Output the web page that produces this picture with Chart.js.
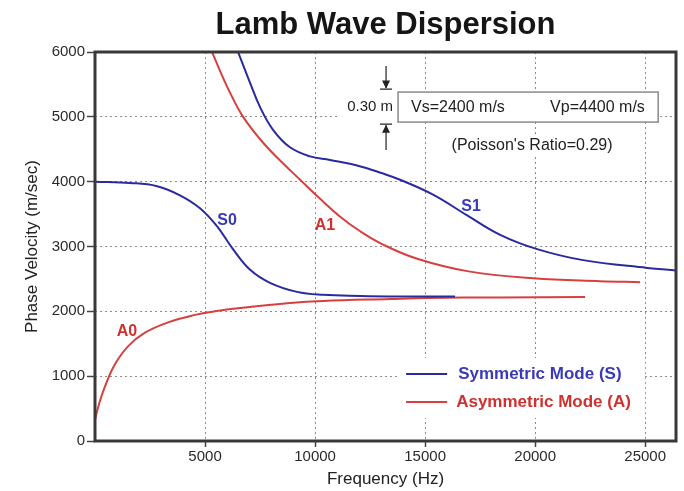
<!DOCTYPE html>
<html>
<head>
<meta charset="utf-8">
<title>Lamb Wave Dispersion</title>
<script src="https://cdn.jsdelivr.net/npm/chart.js@4.4.0/dist/chart.umd.min.js"></script>
<style>
  html, body { margin: 0; padding: 0; background: #fff; }
</style>
</head>
<body>
<canvas id="mainChart" width="684" height="491"></canvas>
<script>
// Curves (frequency in Hz, phase velocity in m/s)
const s0Freq = [0, 1590, 2820, 3860, 4770, 5550, 6270, 7050, 7950, 9180, 10360, 12050, 13860, 16360];
const s0Vel  = [4000, 3980, 3930, 3790, 3590, 3310, 2960, 2640, 2440, 2300, 2255, 2238, 2230, 2228];

const a0Freq = [0, 200, 450, 900, 1500, 2270, 3320, 4550, 5450, 6590, 8860, 10360, 13410, 15090, 18400, 22270];
const a0Vel  = [330, 590, 840, 1180, 1460, 1670, 1830, 1945, 2000, 2050, 2128, 2160, 2190, 2205, 2215, 2220];

const a1Freq = [5320, 5680, 6140, 6730, 7640, 8550, 9320, 10230, 11140, 12050, 13090, 14640, 16910, 19910, 22950, 24770];
const a1Vel  = [6000, 5710, 5370, 5000, 4600, 4280, 4030, 3735, 3460, 3235, 3030, 2810, 2620, 2510, 2465, 2450];

const s1Freq = [6500, 7050, 7500, 8090, 8860, 9770, 10680, 11910, 13090, 13860, 15360, 16910, 18410, 20090, 22180, 25090, 26400];
const s1Vel  = [6000, 5520, 5150, 4800, 4530, 4390, 4335, 4250, 4125, 4030, 3800, 3480, 3180, 2960, 2790, 2670, 2630];

const xTicks = [5000, 10000, 15000, 20000, 25000];
const yTicks = [0, 1000, 2000, 3000, 4000, 5000, 6000];

const BLUE = '#2a2aa0';
const RED = '#d6403e';
const FONT = '"Liberation Sans", Arial, sans-serif';

Chart.defaults.font.family = FONT;

function pairs(xs, ys) {
    return xs.map((x, i) => ({ x: x, y: ys[i] }));
}

function curve(label, xs, ys, color) {
    return {
        label: label,
        data: pairs(xs, ys),
        borderColor: color,
        borderWidth: 2,
        showLine: true,
        pointRadius: 0,
        tension: 0.4,
        fill: false
    };
}

// text, boxes and legend drawn on top of the grid
const overlay = {
    id: 'overlay',
    beforeDatasetsDraw(chart) {
        const { ctx, scales: { x, y } } = chart;
        const X = v => x.getPixelForValue(v);
        const Y = v => y.getPixelForValue(v);
        const rect = (x0, x1, y0, y1) => ctx.fillRect(X(x0), Y(y0), X(x1) - X(x0), Y(y1) - Y(y0));

        ctx.save();
        ctx.fillStyle = '#fff';
        rect(11050, 13770, 5840, 4460);   // thickness marker
        rect(13770, 25590, 5382, 4919);   // velocity box
        rect(15770, 24090, 4718, 4395);   // poisson text
        rect(13860, 25000, 1280, 355);    // legend

        // velocity box
        ctx.strokeStyle = '#8a8a8a';
        ctx.lineWidth = 1.5;
        ctx.strokeRect(X(13770), Y(5382), X(25590) - X(13770), Y(4919) - Y(5382));

        ctx.fillStyle = '#222';
        ctx.textBaseline = 'middle';
        ctx.font = '16px ' + FONT;
        ctx.textAlign = 'left';
        ctx.fillText('Vs=2400 m/s', X(14360), Y(5150));
        ctx.fillText('Vp=4400 m/s', X(20680), Y(5150));
        ctx.textAlign = 'center';
        ctx.fillText("(Poisson's Ratio=0.29)", X(19860), Y(4564));
        ctx.font = '15px ' + FONT;
        ctx.textAlign = 'right';
        ctx.fillText('0.30 m', X(13545), Y(5150));

        // plate thickness arrows
        const ax = X(13225);
        ctx.strokeStyle = '#222';
        ctx.fillStyle = '#222';
        ctx.lineWidth = 1.2;
        ctx.beginPath();
        ctx.moveTo(ax, Y(5783)); ctx.lineTo(ax, Y(5443));
        ctx.moveTo(ax - 6, Y(5428)); ctx.lineTo(ax + 6, Y(5428));
        ctx.moveTo(ax - 6, Y(4888)); ctx.lineTo(ax + 6, Y(4888));
        ctx.moveTo(ax, Y(4870)); ctx.lineTo(ax, Y(4487));
        ctx.stroke();
        ctx.beginPath();
        ctx.moveTo(ax, Y(5435)); ctx.lineTo(ax - 4, Y(5560)); ctx.lineTo(ax + 4, Y(5560)); ctx.closePath();
        ctx.moveTo(ax, Y(4878)); ctx.lineTo(ax - 4, Y(4755)); ctx.lineTo(ax + 4, Y(4755)); ctx.closePath();
        ctx.fill();

        // curve labels
        ctx.font = 'bold 16px ' + FONT;
        ctx.textAlign = 'center';
        ctx.fillStyle = '#3a3ab8';
        ctx.fillText('S0', X(6000), Y(3392));
        ctx.fillText('S1', X(17090), Y(3620));
        ctx.fillStyle = '#d0302e';
        ctx.fillText('A1', X(10450), Y(3315));
        ctx.fillText('A0', X(1455), Y(1680));

        // legend
        ctx.lineWidth = 2;
        ctx.strokeStyle = BLUE;
        ctx.beginPath(); ctx.moveTo(X(14135), Y(1033)); ctx.lineTo(X(16000), Y(1033)); ctx.stroke();
        ctx.strokeStyle = RED;
        ctx.beginPath(); ctx.moveTo(X(14135), Y(601)); ctx.lineTo(X(16000), Y(601)); ctx.stroke();
        ctx.font = 'bold 17px ' + FONT;
        ctx.textAlign = 'left';
        ctx.fillStyle = '#3a3ab8';
        ctx.fillText('Symmetric Mode (S)', X(16500), Y(1033));
        ctx.fillStyle = '#d0302e';
        ctx.fillText('Asymmetric Mode (A)', X(16410), Y(601));
        ctx.restore();
    },
    afterDatasetsDraw(chart) {
        const { ctx, chartArea: a } = chart;
        ctx.save();
        ctx.strokeStyle = '#383838';
        ctx.lineWidth = 3;
        ctx.strokeRect(a.left, a.top, a.right - a.left, a.bottom - a.top);

        ctx.fillStyle = '#151515';
        ctx.font = 'bold 31px ' + FONT;
        ctx.textAlign = 'center';
        ctx.textBaseline = 'alphabetic';
        ctx.fillText('Lamb Wave Dispersion', (a.left + a.right) / 2, 34);
        ctx.restore();
    }
};

const gridStyle = {
    color: '#8c8c8c',
    lineWidth: 1,
    tickColor: '#444',
    tickWidth: 1.5,
    tickBorderDash: []
};

const ctx = document.getElementById('mainChart').getContext('2d');
const chart = new Chart(ctx, {
    type: 'scatter',
    data: {
        datasets: [
            curve('S0', s0Freq, s0Vel, BLUE),
            curve('S1', s1Freq, s1Vel, BLUE),
            curve('A0', a0Freq, a0Vel, RED),
            curve('A1', a1Freq, a1Vel, RED)
        ]
    },
    options: {
        responsive: false,
        animation: false,
        layout: { padding: { top: 52, right: 8, left: 0, bottom: 0 } },
        plugins: {
            legend: { display: false },
            title: { display: false },
            tooltip: { enabled: false }
        },
        scales: {
            x: {
                type: 'linear',
                min: 0,
                max: 26400,
                afterBuildTicks: s => { s.ticks = xTicks.map(v => ({ value: v })); },
                afterFit: s => { s.height = 50; },
                grid: Object.assign({ tickLength: 6 }, gridStyle),
                border: { display: false, dash: [2, 3] },
                ticks: {
                    color: '#2a2a2a',
                    font: { size: 15 },
                    padding: 1,
                    maxRotation: 0,
                    callback: v => String(v)
                },
                title: {
                    display: true,
                    text: 'Frequency (Hz)',
                    color: '#222',
                    font: { size: 17 },
                    padding: { top: 0, bottom: 1 }
                }
            },
            y: {
                type: 'linear',
                min: 0,
                max: 6000,
                afterBuildTicks: s => { s.ticks = yTicks.map(v => ({ value: v })); },
                afterFit: s => { s.width = 95; },
                grid: Object.assign({ tickLength: 8 }, gridStyle),
                border: { display: false, dash: [2, 3] },
                ticks: {
                    color: '#2a2a2a',
                    font: { size: 15 },
                    padding: 2,
                    callback: v => String(v)
                },
                title: {
                    display: true,
                    text: 'Phase Velocity (m/sec)',
                    color: '#222',
                    font: { size: 17 },
                    padding: { top: 22, bottom: 0 }
                }
            }
        }
    },
    plugins: [overlay]
});
</script>
</body>
</html>
